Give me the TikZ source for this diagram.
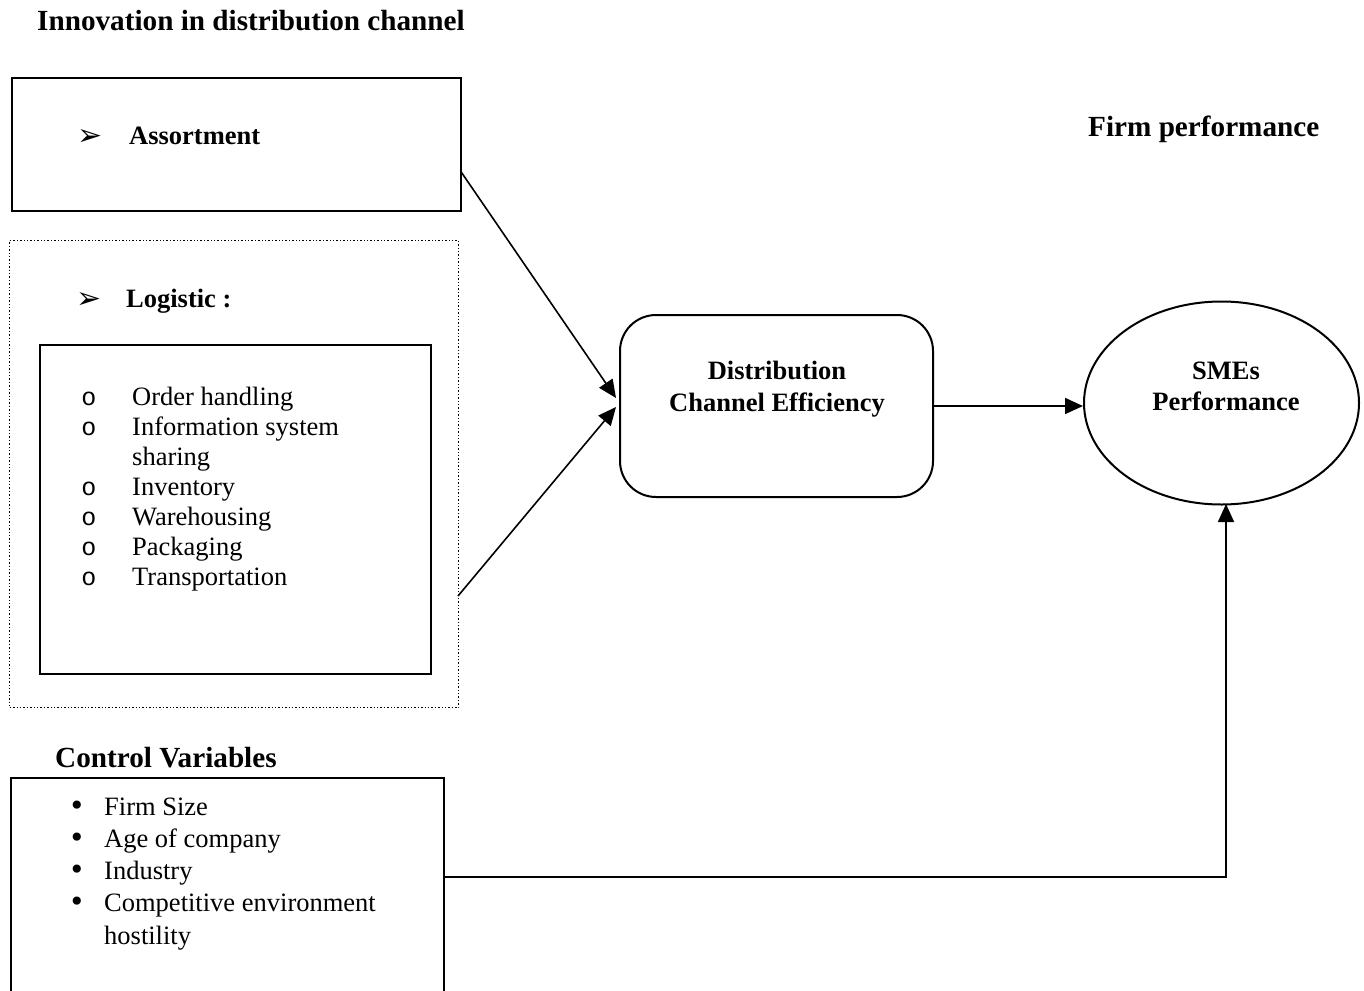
\documentclass[tikz,border=0pt]{standalone}
\usepackage{fontspec}
\setmainfont{Liberation Serif}
\newfontfamily\dejavu{DejaVu Sans}
\newfontfamily\monofnt{Liberation Mono}
\usetikzlibrary{arrows.meta,calc,shapes.geometric}
\begin{document}
\begin{tikzpicture}[x=1pt,y=-1pt,
  txt/.style={inner sep=0pt,font=\fontsize{26.5}{30.5}\selectfont},
  btxt/.style={inner sep=0pt,font=\fontsize{26.5}{30.5}\selectfont\bfseries},
  bigb/.style={inner sep=0pt,font=\fontsize{29.2}{33}\selectfont\bfseries},
  boxline/.style={draw=black,line width=2pt},
  conn/.style={draw=black,line width=1.6pt},
  arr/.style={conn,-{Triangle[length=18pt,width=16pt]}},
  marker/.style={inner sep=0pt,font=\dejavu\fontsize{30}{33}\selectfont},
  dot/.style={inner sep=0pt,font=\dejavu\fontsize{28}{30}\selectfont},
]
\useasboundingbox (0,0) rectangle (1364,990);

% titles
\node[bigb,anchor=base west] (t1) at (37,31) {Innovation in distribution channel};
\node[bigb,anchor=base west] (t2) at (1088,136) {Firm performance};
\node[bigb,anchor=base west] (t3) at (55,767) {Control Variables};

% Assortment box
\node[boxline,rectangle,minimum width=449pt,minimum height=133pt,anchor=north west,inner sep=0pt] (assort) at (11,77) {};
\node[marker,anchor=base] (m1) at (90,145) {➢};
\node[btxt,anchor=base west] (a1) at (129,144) {Assortment};

% Logistic dotted box
\node[draw=black,line width=1.4pt,dotted,rectangle,minimum width=449pt,minimum height=467pt,anchor=north west,inner sep=0pt] (logi) at (9,240) {};
\node[marker,anchor=base] (m2) at (89,308) {➢};
\node[btxt,anchor=base west] (l1) at (126,307) {Logistic :};
\node[boxline,rectangle,minimum width=391pt,minimum height=329pt,anchor=north west,inner sep=0pt] (inner) at (39,344) {};
\foreach \t [count=\i] in {Order handling,Information system,sharing,Inventory,Warehousing,Packaging,Transportation}{
  \node[txt,anchor=base west] (li\i) at (132,{405+30*(\i-1)}) {\t};
}
\foreach \i in {1,2,4,5,6,7}{
  \node[inner sep=0pt,font=\monofnt\fontsize{25}{30}\selectfont,anchor=base] (lo\i) at (89,{405+30*(\i-1)}) {o};
}

% Distribution channel efficiency
\node[boxline,rectangle,rounded corners=36pt,minimum width=313pt,minimum height=182pt,anchor=north west,inner sep=0pt] (dce) at (619,314) {};
\node[btxt,anchor=base] (d1) at (777,379) {Distribution};
\node[btxt,anchor=base] (d2) at (777,411) {Channel Efficiency};

% SMEs ellipse
\node[boxline,ellipse,minimum width=275pt,minimum height=203pt,inner sep=0pt] (sme) at (1221.5,403) {};
\node[btxt,anchor=base] (s1) at (1226,379) {SMEs};
\node[btxt,anchor=base] (s2) at (1226,410) {Performance};

% Control box (cut at bottom)
\coordinate (cbl) at (11,993);
\coordinate (cbtl) at (11,778);
\coordinate (cbtr) at (444,778);
\coordinate (cbr) at (444,993);
\draw[boxline] (cbl) -- (cbtl) -- (cbtr) -- (cbr);
\foreach \t [count=\i] in {Firm Size,Age of company,Industry,Competitive environment,hostility}{
  \node[txt,anchor=base west] (ci\i) at (104,{815+32.3*(\i-1)}) {\t};
}
\foreach \i in {1,2,3,4}{
  \node[dot,anchor=base] (cb\i) at (77,{815+32.3*(\i-1)}) {•};
}

% connectors
\coordinate (s_a) at (460.5,171);
\coordinate (e_a) at (616,398);
\coordinate (s_l) at (458,596);
\coordinate (e_l) at (616,407);
\draw[arr] (s_a) -- (e_a);
\draw[arr] (s_l) -- (e_l);
\draw[arr] (dce.east) -- (dce.east -| sme.west);
\coordinate (c_s) at (444,877);
\coordinate (c_k) at (1226,877);
\draw[arr] (c_s) -- (c_k) -- (1226,504);
\end{tikzpicture}
\end{document}
